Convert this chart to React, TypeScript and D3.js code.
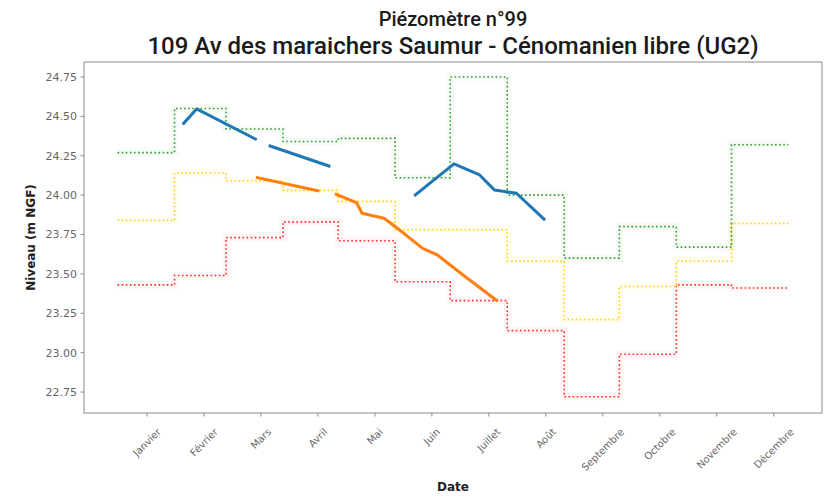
import React, { useEffect, useRef } from "react";
import * as d3 from "d3";

// ---- data ----
const YEAR = 2023;
const monthLabels = [
  "Janvier", "Février", "Mars", "Avril", "Mai", "Juin",
  "Juillet", "Août", "Septembre", "Octobre", "Novembre", "Décembre",
];
const highMonthly = [24.27, 24.55, 24.42, 24.34, 24.36, 24.11, 24.75, 24.0, 23.6, 23.8, 23.67, 24.32];
const medianMonthly = [23.84, 24.14, 24.09, 24.03, 23.96, 23.78, 23.78, 23.58, 23.21, 23.42, 23.58, 23.82];
const lowMonthly = [23.43, 23.49, 23.73, 23.83, 23.71, 23.45, 23.33, 23.14, 22.72, 22.99, 23.43, 23.41];

// blue series (null = gap)
const blueDates = ["02-06", "02-13", "03-17", null, "03-25", "04-26", null, "06-12", "07-03", "07-17", "07-25", "08-06", "08-21"];
const blueValues = [24.456, 24.547, 24.356, null, 24.312, 24.185, null, 24.001, 24.198, 24.128, 24.033, 24.012, 23.848];

// orange series
const orangeDates = ["03-18", "04-20", null, "04-30", "05-11", "05-14", "05-26", "06-03", "06-16", "06-24", "07-08", "07-26"];
const orangeValues = [24.111, 24.028, null, 24.005, 23.953, 23.885, 23.853, 23.783, 23.662, 23.62, 23.493, 23.334];

const yTicks = [22.75, 23.0, 23.25, 23.5, 23.75, 24.0, 24.25, 24.5, 24.75];
// x ticks: every 31 days starting mid-January
const xTickDayOffsets = [16, 47, 78, 109, 140, 171, 202, 233, 264, 295, 326, 357];

const title1 = "Piézomètre n°99";
const title2 = "109 Av des maraichers Saumur - Cénomanien libre (UG2)";

const W = 831;
const H = 500;

export default function App() {
  const ref = useRef<SVGSVGElement | null>(null);

  useEffect(() => {
    const svg = d3.select(ref.current);
    svg.selectAll("*").remove();

    const left = 84, right = 822, top = 62, bottom = 413;
    const jan1 = new Date(YEAR, 0, 1);
    const nextJan1 = new Date(YEAR + 1, 0, 1);
    const margin = 18.25 * 86400000;
    const x = d3.scaleTime()
      .domain([new Date(jan1.getTime() - margin), new Date(nextJan1.getTime() + margin)])
      .range([left, right]);
    const y = d3.scaleLinear().domain([22.617, 24.845]).range([bottom, top]);

    const parse = (s: string) => d3.timeParse("%Y-%m-%d")(`${YEAR}-${s}`) as Date;

    // title
    svg.append("text").attr("x", (left + right) / 2).attr("y", 26)
      .attr("text-anchor", "middle").attr("font-family", "Roboto").attr("font-weight", 500)
      .attr("font-size", 20).attr("fill", "#1a1a1a").text(title1);
    svg.append("text").attr("x", (left + right) / 2).attr("y", 54)
      .attr("text-anchor", "middle").attr("font-family", "Roboto").attr("font-weight", 500)
      .attr("font-size", 24).attr("fill", "#1a1a1a").text(title2);

    const g = svg.append("g");

    // step series
    const monthStarts = d3.range(13).map((i) => new Date(YEAR, i, 1));
    const stepLine = d3.line<[Date, number]>()
      .x((d) => x(d[0]))
      .y((d) => y(d[1]))
      .curve(d3.curveStepAfter);
    const stepSeries: [number[], string][] = [
      [lowMonthly, "#ff2a2a"],
      [medianMonthly, "#ffd400"],
      [highMonthly, "#2f9e2f"],
    ];
    stepSeries.forEach(([vals, color]) => {
      const pts: [Date, number][] = vals.map((v, i) => [monthStarts[i], v] as [Date, number]);
      pts.push([monthStarts[12], vals[vals.length - 1]]);
      g.append("path").attr("d", stepLine(pts)!).attr("fill", "none")
        .attr("stroke", color).attr("stroke-width", 8).attr("stroke-opacity", 0.04);
      g.append("path").attr("d", stepLine(pts)!).attr("fill", "none")
        .attr("stroke", color).attr("stroke-width", 1.6).attr("stroke-dasharray", "1.6,2.5");
    });

    // solid series
    const solidLine = d3.line<[Date | null, number | null]>()
      .defined((d) => d[0] !== null && d[1] !== null)
      .x((d) => x(d[0] as Date))
      .y((d) => y(d[1] as number));
    const solids: [(string | null)[], (number | null)[], string][] = [
      [blueDates, blueValues, "#1f77b4"],
      [orangeDates, orangeValues, "#ff7f0e"],
    ];
    solids.forEach(([ds, vs, color]) => {
      const pts = ds.map((d, i) => [d ? parse(d) : null, vs[i]] as [Date | null, number | null]);
      g.append("path").attr("d", solidLine(pts)!).attr("fill", "none")
        .attr("stroke", color).attr("stroke-width", 3)
        .attr("stroke-linejoin", "round").attr("stroke-linecap", "square");
    });

    // frame
    svg.append("rect").attr("x", left).attr("y", top)
      .attr("width", right - left).attr("height", bottom - top)
      .attr("fill", "none").attr("stroke", "#8a8a8a").attr("stroke-width", 1);

    // y ticks
    yTicks.forEach((t) => {
      const yy = y(t);
      svg.append("line").attr("x1", left - 3.5).attr("x2", left).attr("y1", yy).attr("y2", yy)
        .attr("stroke", "#8a8a8a");
      svg.append("text").attr("x", left - 7).attr("y", yy).attr("dy", "0.35em")
        .attr("text-anchor", "end").attr("font-family", "DejaVu Sans").attr("font-size", 11)
        .attr("fill", "#666").text(d3.format(".2f")(t));
    });

    // x ticks
    const labelTop = 426;
    xTickDayOffsets.forEach((off, i) => {
      const xx = x(d3.timeDay.offset(jan1, off));
      svg.append("line").attr("x1", xx).attr("x2", xx).attr("y1", bottom).attr("y2", bottom + 3.5)
        .attr("stroke", "#8a8a8a");
      const t = svg.append("text").attr("text-anchor", "middle").attr("dominant-baseline", "central")
        .attr("font-family", "DejaVu Sans").attr("font-size", 10).attr("fill", "#666")
        .text(monthLabels[i]);
      const w = (t.node() as SVGTextElement).getComputedTextLength();
      const h = 11.6;
      const ext = (w + h) / Math.SQRT2;
      t.attr("transform", `translate(${xx},${labelTop + ext / 2}) rotate(-45)`);
    });

    // axis labels
    svg.append("text").attr("x", (left + right) / 2).attr("y", 491)
      .attr("text-anchor", "middle").attr("font-family", "DejaVu Sans").attr("font-weight", "bold")
      .attr("font-size", 12).attr("fill", "#222").text("Date");
    svg.append("text").attr("transform", `translate(35,${(top + bottom) / 2}) rotate(-90)`)
      .attr("text-anchor", "middle").attr("font-family", "DejaVu Sans").attr("font-weight", "bold")
      .attr("font-size", 12).attr("fill", "#222").text("Niveau (m NGF)");
  }, []);

  return (
    <svg ref={ref} width={W} height={H} style={{ display: "block", position: "absolute", left: 0, top: 0, background: "#fff" }} />
  );
}
